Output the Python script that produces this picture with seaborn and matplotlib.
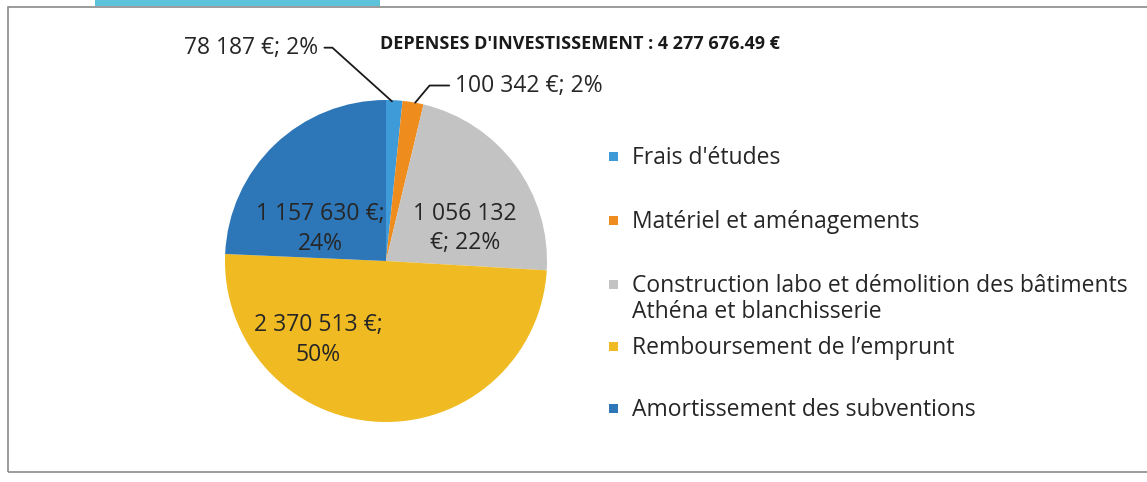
import matplotlib
matplotlib.use("Agg")
import matplotlib.pyplot as plt
from matplotlib.patches import Rectangle
import seaborn as sns

# ---- data ----
categories = [
    "Frais d'études",
    "Matériel et aménagements",
    "Construction labo et démolition des bâtiments\nAthéna et blanchisserie",
    "Remboursement de l\u2019emprunt",
    "Amortissement des subventions",
]
values = [78187, 100342, 1056132, 2370513, 1157630]
value_labels = ["78 187 €; 2%", "100 342 €; 2%", "1 056 132\n€; 22%",
                "2 370 513 €;\n50%", "1 157 630 €;\n24%"]
title = "DEPENSES D'INVESTISSEMENT : 4 277 676.49 €"
colors = ["#3f9ad8", "#ee8c1e", "#c3c3c3", "#f0bb22", "#2d76b8"]

sns.set_theme(style="white")
plt.rcParams['font.family'] = ['Open Sans', 'DejaVu Sans']

W, H = 1147, 482
fig = plt.figure(figsize=(W / 100, H / 100), dpi=100)
fig.patch.set_facecolor("white")

# frame and header strip
fig.add_artist(Rectangle((8 / W, (H - 472) / H), (W - 6) / W, (472 - 7) / H,
                         transform=fig.transFigure, fill=False,
                         edgecolor="#8a8a8a", linewidth=1.2))
fig.add_artist(Rectangle((95 / W, (H - 6) / H), 285 / W, 6 / H,
                         transform=fig.transFigure, facecolor="#5cc3da",
                         edgecolor="none"))

cx, cy, r = 386, 261, 161
ax = fig.add_axes([(cx - r) / W, (H - cy - r) / H, 2 * r / W, 2 * r / H])
wedges, _ = ax.pie(values, colors=colors, startangle=90, counterclock=False,
                   wedgeprops=dict(linewidth=0))
ax.set_xlim(-1, 1)
ax.set_ylim(-1, 1)
ax.set_aspect("auto")
ax.axis("off")

txtc = "#262626"
fs = 16.5
ls = 1.3
# outer labels with leader lines
ax.annotate(value_labels[0], xy=(0.05, 0.98), xytext=(-0.42, 1.325),
            ha="right", va="center", fontsize=fs, color=txtc,
            arrowprops=dict(arrowstyle="-", color="#1a1a1a", lw=1.3,
                            connectionstyle="angle,angleA=0,angleB=-42,rad=0"))
ax.annotate(value_labels[1], xy=(0.17, 0.97), xytext=(0.43, 1.09),
            ha="left", va="center", fontsize=fs, color=txtc,
            arrowprops=dict(arrowstyle="-", color="#1a1a1a", lw=1.3,
                            connectionstyle="angle,angleA=0,angleB=50,rad=0"))
# inner labels
ax.text(0.49, 0.20, value_labels[2], ha="center", va="center", fontsize=fs,
        color=txtc, linespacing=ls)
ax.text(-0.42, -0.49, value_labels[3], ha="center", va="center", fontsize=fs,
        color=txtc, linespacing=ls)
ax.text(-0.41, 0.20, value_labels[4], ha="center", va="center", fontsize=fs,
        color=txtc, linespacing=ls)

# title
fig.text(380 / W, (H - 44) / H, title, ha="left", va="center",
         fontsize=13, fontweight="bold", color="#1a1a1a")

# legend
leg_y = [158, 222, 286, 348, 410]
line_gap = 26
for cat, col, y in zip(categories, colors, leg_y):
    n = cat.count("\n")
    fig.add_artist(Rectangle((609 / W, (H - y - 3) / H), 9 / W, 9 / H,
                             transform=fig.transFigure, facecolor=col,
                             edgecolor="none"))
    fig.text(632 / W, (H - y - n * line_gap / 2) / H, cat, ha="left", va="center",
             fontsize=fs, color=txtc, linespacing=1.12)

fig.savefig("out.png", dpi=100)
